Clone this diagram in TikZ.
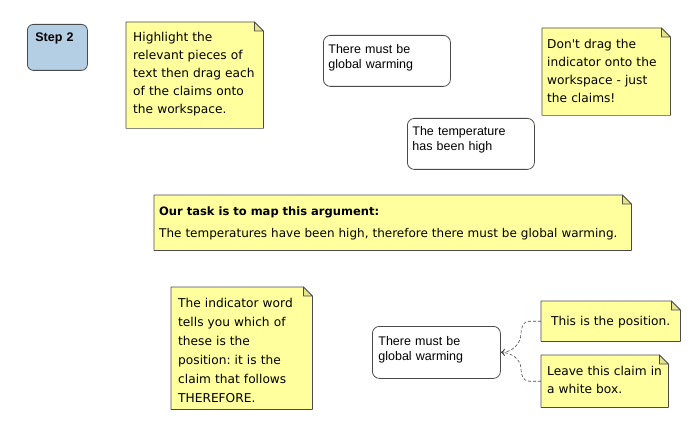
\documentclass[tikz,border=0pt]{standalone}
\usepackage{fontspec}
\setmainfont{Liberation Sans}
\newfontfamily\notefont{DejaVu Sans}
\usetikzlibrary{arrows.meta,backgrounds}
\frenchspacing

\definecolor{notefill}{HTML}{FFFF9E}
\definecolor{notefold}{HTML}{E4E48E}
\definecolor{stepfill}{HTML}{B4CEE4}
\definecolor{edge}{HTML}{4A4A4A}

% sticky-note paper behind a node, with a folded top right corner
\newcommand{\notepaper}[1]{%
  \filldraw[paper] (#1.south west) -- (#1.north west) -- ([xshift=-9pt]#1.north east)
    -- ([yshift=-9pt]#1.north east) -- (#1.south east) -- cycle;
  \filldraw[paper, fill=notefold] ([xshift=-9pt]#1.north east)
    -- ([xshift=-9pt,yshift=-9pt]#1.north east) -- ([yshift=-9pt]#1.north east) -- cycle;}

\begin{document}
\begin{tikzpicture}[x=1pt, y=-1pt,
    stepbox/.style={draw=edge, fill=stepfill, line width=0.8pt, rounded corners=6pt,
                    anchor=north west, align=left, inner xsep=8pt, inner ysep=0pt,
                    font=\fontsize{12.5}{15}\selectfont\bfseries},
    claim/.style={draw=edge, line width=0.8pt, rounded corners=7pt, anchor=north west,
                  align=left, inner xsep=5pt, inner ysep=0pt,
                  font=\fontsize{12.5}{15}\selectfont},
    note/.style={anchor=north west, align=left, inner xsep=6pt, inner ysep=0pt,
                 font=\notefont\fontsize{12.2}{18}\selectfont},
    paper/.style={draw=edge, fill=notefill, line width=0.7pt, line join=round},
    link/.style={densely dashed, draw=edge, line width=0.6pt, -{To[length=4pt,width=7pt]}},
]
    \useasboundingbox (0,0) rectangle (699,441);

    \node[stepbox, text width=44pt, text height=17pt, text depth=29pt] (step) at (27,24) {Step 2};

    % instructions and claims of the workspace
    \node[note, inner xsep=7pt, text width=123pt, text height=19pt, text depth=87pt] (highlight) at (126,22)
        {Highlight the\\relevant pieces of\\text then drag each\\of the claims onto\\the workspace.};
    \node[claim, text width=117pt, text height=18pt, text depth=33pt] (warming) at (323,35)
        {There must be\\global warming};
    \node[note, inner xsep=5pt, text width=118pt, text height=20pt, text depth=67pt] (nodrag) at (542,28)
        {Don't drag the\\indicator onto the\\workspace - just\\the claims!};
    \node[claim, text width=117pt, text height=17pt, text depth=34pt] (temp) at (407,118)
        {The temperature\\has been high};

    \node[note, inner xsep=5pt, font=\notefont\fontsize{12}{22}\selectfont, text width=467pt, text height=20pt, text depth=35pt] (task) at (154,195)
        {{\fontsize{11.5}{22}\selectfont\bfseries Our task is to map this argument:}\\The temperatures have been high, therefore there must be global warming.};

    % the position
    \node[note, inner xsep=7pt, font=\notefont\fontsize{12.2}{19}\selectfont, text width=127pt, text height=20pt, text depth=102pt] (indicator) at (171,287)
        {The indicator word\\tells you which of\\these is the\\position: it is the\\claim that follows\\THEREFORE.};
    \node[claim, inner xsep=6pt, text width=116pt, text height=19pt, text depth=33pt] (position) at (372,326)
        {There must be\\global warming};
    \node[note, align=center, text width=127pt, text height=24pt, text depth=16pt] (thisis) at (541,301)
        {This is the position.};
    \node[note, text width=115pt, text height=20pt, text depth=32pt] (whitebox) at (541,355)
        {Leave this claim in\\a white box.};

    \begin{scope}[on background layer]
        \notepaper{highlight}
        \notepaper{nodrag}
        \notepaper{task}
        \notepaper{indicator}
        \notepaper{thisis}
        \notepaper{whitebox}
    \end{scope}

    \draw[link] (thisis.west) -- ++(-12,0) to[out=180,in=90] ++(-8,12) to[out=270,in=0] (position.east);
    \draw[link] (whitebox.west) -- ++(-12,0) to[out=180,in=270] ++(-8,-12) to[out=90,in=0] (position.east);
\end{tikzpicture}
\end{document}
